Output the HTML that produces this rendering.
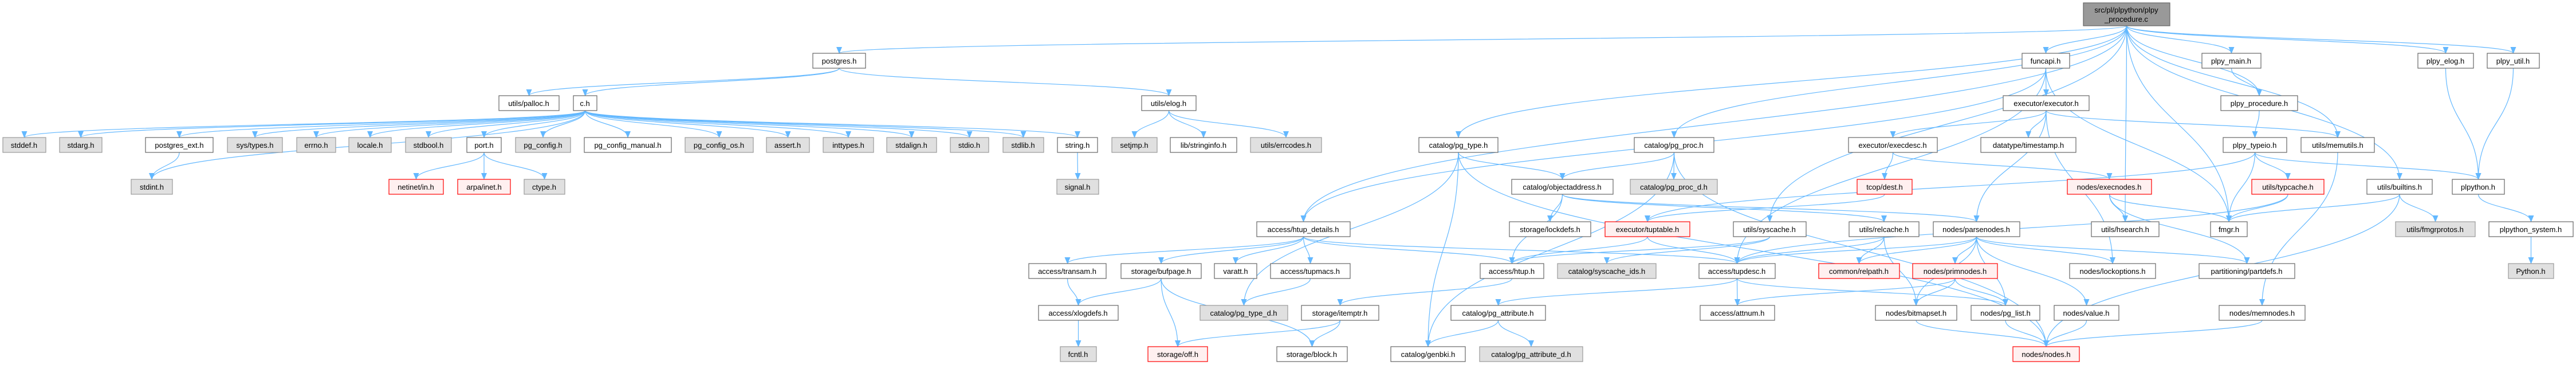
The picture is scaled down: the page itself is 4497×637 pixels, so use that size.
<!DOCTYPE html>
<html><head><meta charset="utf-8">
<style>
html,body{margin:0;padding:0;background:#fff;}
svg{display:block;}
text{font-family:"Liberation Sans","DejaVu Sans",sans-serif;font-size:13px;fill:#000;text-anchor:middle;}
.w{fill:#fff;stroke:#666;stroke-width:1.2}
.g{fill:#e0e0e0;stroke:#999;stroke-width:1.2}
.r{fill:#fff0f0;stroke:#f00;stroke-width:1.2}
.k{fill:#999;stroke:#666;stroke-width:1.2}
.e{fill:none;stroke:#63b8ff;stroke-width:1.2}
</style></head><body>
<svg id="s" width="4497" height="637" viewBox="0 0 4497 637" xmlns="http://www.w3.org/2000/svg">
<defs><marker id="a" markerWidth="12" markerHeight="10" refX="11" refY="5" orient="auto" markerUnits="userSpaceOnUse"><path d="M0,0 L12,5 L0,10 z" fill="#63b8ff"/></marker></defs>
<g id="eg"></g>
<g id="ng">
<rect id="root" class="k" x="3637" y="5" width="151" height="40"/><text x="3712" y="22">src/pl/plpython/plpy</text><text x="3712" y="38">_procedure.c</text>
<rect id="postgres" class="w" x="1419" y="93" width="92" height="26"/><text x="1465" y="111">postgres.h</text>
<rect id="palloc" class="w" x="871" y="167" width="105" height="26"/><text x="923" y="185">utils/palloc.h</text>
<rect id="ch" class="w" x="1001" y="167" width="41" height="26"/><text x="1021" y="185">c.h</text>
<rect id="elog" class="w" x="1993" y="167" width="95" height="26"/><text x="2040" y="185">utils/elog.h</text>
<rect id="stddef" class="g" x="5" y="240" width="75" height="26"/><text x="42" y="258">stddef.h</text>
<rect id="stdarg" class="g" x="104" y="240" width="74" height="26"/><text x="141" y="258">stdarg.h</text>
<rect id="pgext" class="w" x="254" y="240" width="118" height="26"/><text x="313" y="258">postgres_ext.h</text>
<rect id="systypes" class="g" x="397" y="240" width="96" height="26"/><text x="445" y="258">sys/types.h</text>
<rect id="errno" class="g" x="518" y="240" width="68" height="26"/><text x="552" y="258">errno.h</text>
<rect id="locale" class="g" x="609" y="240" width="74" height="26"/><text x="646" y="258">locale.h</text>
<rect id="stdbool" class="g" x="708" y="240" width="80" height="26"/><text x="748" y="258">stdbool.h</text>
<rect id="port" class="w" x="815" y="240" width="60" height="26"/><text x="845" y="258">port.h</text>
<rect id="pgconfig" class="g" x="900" y="240" width="96" height="26"/><text x="948" y="258">pg_config.h</text>
<rect id="pgcman" class="w" x="1020" y="240" width="152" height="26"/><text x="1096" y="258">pg_config_manual.h</text>
<rect id="pgcos" class="g" x="1196" y="240" width="119" height="26"/><text x="1255" y="258">pg_config_os.h</text>
<rect id="assert" class="g" x="1338" y="240" width="75" height="26"/><text x="1375" y="258">assert.h</text>
<rect id="inttypes" class="g" x="1437" y="240" width="88" height="26"/><text x="1481" y="258">inttypes.h</text>
<rect id="stdalign" class="g" x="1548" y="240" width="87" height="26"/><text x="1591" y="258">stdalign.h</text>
<rect id="stdio" class="g" x="1659" y="240" width="67" height="26"/><text x="1692" y="258">stdio.h</text>
<rect id="stdlib" class="g" x="1751" y="240" width="71" height="26"/><text x="1786" y="258">stdlib.h</text>
<rect id="string" class="w" x="1846" y="240" width="70" height="26"/><text x="1881" y="258">string.h</text>
<rect id="setjmp" class="g" x="1941" y="240" width="79" height="26"/><text x="1980" y="258">setjmp.h</text>
<rect id="strinfo" class="w" x="2043" y="240" width="116" height="26"/><text x="2101" y="258">lib/stringinfo.h</text>
<rect id="errcodes" class="g" x="2183" y="240" width="124" height="26"/><text x="2245" y="258">utils/errcodes.h</text>
<rect id="stdint" class="g" x="229" y="313" width="72" height="26"/><text x="265" y="331">stdint.h</text>
<rect id="netinet" class="r" x="679" y="313" width="95" height="26"/><text x="726" y="331">netinet/in.h</text>
<rect id="arpa" class="r" x="799" y="313" width="92" height="26"/><text x="845" y="331">arpa/inet.h</text>
<rect id="ctype" class="g" x="915" y="313" width="71" height="26"/><text x="950" y="331">ctype.h</text>
<rect id="signal" class="g" x="1845" y="313" width="73" height="26"/><text x="1881" y="331">signal.h</text>
<rect id="htupd" class="w" x="2194" y="387" width="163" height="26"/><text x="2275" y="405">access/htup_details.h</text>
<rect id="transam" class="w" x="1796" y="460" width="135" height="26"/><text x="1863" y="478">access/transam.h</text>
<rect id="bufpage" class="w" x="1957" y="460" width="140" height="26"/><text x="2027" y="478">storage/bufpage.h</text>
<rect id="varatt" class="w" x="2120" y="460" width="74" height="26"/><text x="2157" y="478">varatt.h</text>
<rect id="tupmacs" class="w" x="2218" y="460" width="139" height="26"/><text x="2287" y="478">access/tupmacs.h</text>
<rect id="xlogdefs" class="w" x="1813" y="533" width="139" height="26"/><text x="1882" y="551">access/xlogdefs.h</text>
<rect id="pgtyped" class="g" x="2095" y="533" width="153" height="26"/><text x="2171" y="551">catalog/pg_type_d.h</text>
<rect id="fcntl" class="g" x="1851" y="605" width="63" height="26"/><text x="1882" y="623">fcntl.h</text>
<rect id="off" class="r" x="2004" y="605" width="104" height="26"/><text x="2056" y="623">storage/off.h</text>
<rect id="block" class="w" x="2229" y="605" width="123" height="26"/><text x="2290" y="623">storage/block.h</text>
<rect id="pgtype" class="w" x="2477" y="240" width="138" height="26"/><text x="2546" y="258">catalog/pg_type.h</text>
<rect id="pgproc" class="w" x="2853" y="240" width="139" height="26"/><text x="2922" y="258">catalog/pg_proc.h</text>
<rect id="objaddr" class="w" x="2639" y="313" width="177" height="26"/><text x="2727" y="331">catalog/objectaddress.h</text>
<rect id="pgprocd" class="g" x="2846" y="313" width="152" height="26"/><text x="2922" y="331">catalog/pg_proc_d.h</text>
<rect id="lockdefs" class="w" x="2635" y="387" width="142" height="26"/><text x="2706" y="405">storage/lockdefs.h</text>
<rect id="tuptable" class="r" x="2802" y="387" width="148" height="26"/><text x="2876" y="405">executor/tuptable.h</text>
<rect id="htup" class="w" x="2584" y="460" width="111" height="26"/><text x="2639" y="478">access/htup.h</text>
<rect id="syscids" class="g" x="2719" y="460" width="172" height="26"/><text x="2805" y="478">catalog/syscache_ids.h</text>
<rect id="tupdesc" class="w" x="2966" y="460" width="133" height="26"/><text x="3032" y="478">access/tupdesc.h</text>
<rect id="itemptr" class="w" x="2272" y="533" width="135" height="26"/><text x="2339" y="551">storage/itemptr.h</text>
<rect id="pgattr" class="w" x="2533" y="533" width="165" height="26"/><text x="2615" y="551">catalog/pg_attribute.h</text>
<rect id="attnum" class="w" x="2968" y="533" width="130" height="26"/><text x="3033" y="551">access/attnum.h</text>
<rect id="genbki" class="w" x="2428" y="605" width="130" height="26"/><text x="2493" y="623">catalog/genbki.h</text>
<rect id="pgattrd" class="g" x="2583" y="605" width="180" height="26"/><text x="2673" y="623">catalog/pg_attribute_d.h</text>
<rect id="funcapi" class="w" x="3530" y="93" width="83" height="26"/><text x="3571" y="111">funcapi.h</text>
<rect id="executor" class="w" x="3497" y="167" width="150" height="26"/><text x="3572" y="185">executor/executor.h</text>
<rect id="execdesc" class="w" x="3227" y="240" width="155" height="26"/><text x="3304" y="258">executor/execdesc.h</text>
<rect id="timestamp" class="w" x="3458" y="240" width="166" height="26"/><text x="3541" y="258">datatype/timestamp.h</text>
<rect id="dest" class="r" x="3242" y="313" width="96" height="26"/><text x="3290" y="331">tcop/dest.h</text>
<rect id="execnodes" class="r" x="3609" y="313" width="147" height="26"/><text x="3682" y="331">nodes/execnodes.h</text>
<rect id="syscache" class="w" x="3026" y="387" width="127" height="26"/><text x="3089" y="405">utils/syscache.h</text>
<rect id="relcache" class="w" x="3228" y="387" width="122" height="26"/><text x="3289" y="405">utils/relcache.h</text>
<rect id="parsenodes" class="w" x="3375" y="387" width="151" height="26"/><text x="3450" y="405">nodes/parsenodes.h</text>
<rect id="hsearch" class="w" x="3651" y="387" width="118" height="26"/><text x="3710" y="405">utils/hsearch.h</text>
<rect id="relpath" class="r" x="3175" y="460" width="141" height="26"/><text x="3245" y="478">common/relpath.h</text>
<rect id="primnodes" class="r" x="3339" y="460" width="148" height="26"/><text x="3413" y="478">nodes/primnodes.h</text>
<rect id="lockopt" class="w" x="3613" y="460" width="150" height="26"/><text x="3688" y="478">nodes/lockoptions.h</text>
<rect id="bitmapset" class="w" x="3274" y="533" width="142" height="26"/><text x="3345" y="551">nodes/bitmapset.h</text>
<rect id="pglist" class="w" x="3441" y="533" width="120" height="26"/><text x="3501" y="551">nodes/pg_list.h</text>
<rect id="value" class="w" x="3586" y="533" width="113" height="26"/><text x="3642" y="551">nodes/value.h</text>
<rect id="nodes" class="r" x="3514" y="605" width="116" height="26"/><text x="3572" y="623">nodes/nodes.h</text>
<rect id="plpymain" class="w" x="3844" y="93" width="103" height="26"/><text x="3895" y="111">plpy_main.h</text>
<rect id="plpyelog" class="w" x="4221" y="93" width="97" height="26"/><text x="4269" y="111">plpy_elog.h</text>
<rect id="plpyutil" class="w" x="4342" y="93" width="91" height="26"/><text x="4387" y="111">plpy_util.h</text>
<rect id="plpyproc" class="w" x="3877" y="167" width="134" height="26"/><text x="3944" y="185">plpy_procedure.h</text>
<rect id="typeio" class="w" x="3881" y="240" width="111" height="26"/><text x="3936" y="258">plpy_typeio.h</text>
<rect id="memutils" class="w" x="4017" y="240" width="128" height="26"/><text x="4081" y="258">utils/memutils.h</text>
<rect id="typcache" class="r" x="3931" y="313" width="126" height="26"/><text x="3994" y="331">utils/typcache.h</text>
<rect id="builtins" class="w" x="4132" y="313" width="114" height="26"/><text x="4189" y="331">utils/builtins.h</text>
<rect id="plpython" class="w" x="4281" y="313" width="91" height="26"/><text x="4326" y="331">plpython.h</text>
<rect id="fmgr" class="w" x="3859" y="387" width="64" height="26"/><text x="3891" y="405">fmgr.h</text>
<rect id="fmgrprotos" class="g" x="4182" y="387" width="139" height="26"/><text x="4251" y="405">utils/fmgrprotos.h</text>
<rect id="plpysys" class="w" x="4345" y="387" width="147" height="26"/><text x="4418" y="405">plpython_system.h</text>
<rect id="partdefs" class="w" x="3839" y="460" width="167" height="26"/><text x="3922" y="478">partitioning/partdefs.h</text>
<rect id="python" class="g" x="4379" y="460" width="79" height="26"/><text x="4418" y="478">Python.h</text>
<rect id="memnodes" class="w" x="3874" y="533" width="150" height="26"/><text x="3949" y="551">nodes/memnodes.h</text>
</g>
</svg>
<script>
var E="root>postgres root>funcapi root>plpymain root>plpyproc root>plpyelog root>plpyutil root>memutils root>builtins root>pgproc root>pgtype root>htupd root>syscache root>fmgr root>hsearch "+
"postgres>palloc postgres>ch postgres>elog "+
"ch>stddef ch>stdarg ch>stdint ch>pgext ch>systypes ch>errno ch>locale ch>stdbool ch>port ch>pgconfig ch>pgcman ch>pgcos ch>assert ch>inttypes ch>stdalign ch>stdio ch>stdlib ch>string "+
"pgext>stdint port>netinet port>arpa port>ctype string>signal elog>setjmp elog>strinfo elog>errcodes "+
"htupd>transam htupd>bufpage htupd>varatt htupd>tupmacs htupd>htup htupd>tupdesc transam>xlogdefs bufpage>xlogdefs bufpage>off bufpage>block tupmacs>pgtyped xlogdefs>fcntl "+
"pgtype>objaddr pgtype>genbki pgtype>pgtyped pgtype>nodes pgproc>objaddr pgproc>pgprocd pgproc>genbki pgproc>nodes "+
"objaddr>htup objaddr>lockdefs objaddr>relcache objaddr>parsenodes tuptable>htup tuptable>tupdesc htup>itemptr itemptr>block itemptr>off "+
"tupdesc>attnum tupdesc>pgattr tupdesc>pglist pgattr>genbki pgattr>pgattrd "+
"funcapi>executor funcapi>fmgr funcapi>tupdesc funcapi>htupd executor>execdesc executor>timestamp executor>parsenodes executor>memutils executor>lockopt "+
"execdesc>dest execdesc>execnodes dest>tuptable execnodes>hsearch execnodes>fmgr execnodes>partdefs syscache>syscids syscache>htup "+
"relcache>tupdesc relcache>relpath relcache>bitmapset parsenodes>relpath parsenodes>primnodes parsenodes>lockopt parsenodes>bitmapset parsenodes>pglist parsenodes>value parsenodes>partdefs parsenodes>tupdesc "+
"primnodes>attnum primnodes>bitmapset primnodes>pglist bitmapset>nodes pglist>nodes value>nodes "+
"plpymain>plpyproc plpyproc>typeio typeio>fmgr typeio>typcache typeio>plpython typeio>tuptable typcache>fmgr typcache>tupdesc memutils>memnodes memnodes>nodes builtins>fmgr builtins>fmgrprotos builtins>nodes plpyelog>plpython plpyutil>plpython plpython>plpysys plpysys>python";
function B(id){var r=document.getElementById(id);return{x:+r.getAttribute('x'),y:+r.getAttribute('y'),w:+r.getAttribute('width'),h:+r.getAttribute('height')};}
var g=document.getElementById('eg'),ns="http://www.w3.org/2000/svg";
E.split(' ').forEach(function(p){if(!p)return;var q=p.split('>'),a=B(q[0]),b=B(q[1]),d;
 var sx=a.x+a.w/2,sy=a.y+a.h,tx=b.x+b.w/2,ty=b.y;
 if(b.y<=a.y+a.h){
  if(b.x>a.x){sx=a.x+a.w;tx=b.x;}else{sx=a.x;tx=b.x+b.w;}
  sy=a.y+a.h/2;ty=b.y+b.h/2;
  d="M"+sx+","+sy+" C"+(sx+tx)/2+","+sy+" "+(sx+tx)/2+","+ty+" "+tx+","+ty;
 }else{
  var dy=ty-sy;
  d="M"+sx+","+sy+" C"+sx+","+(sy+dy*0.5)+" "+tx+","+(ty-dy*0.5)+" "+tx+","+ty;
 }
 var e=document.createElementNS(ns,'path');e.setAttribute('d',d);e.setAttribute('class','e');e.setAttribute('marker-end','url(#a)');g.appendChild(e);});
</script>
</body></html>
